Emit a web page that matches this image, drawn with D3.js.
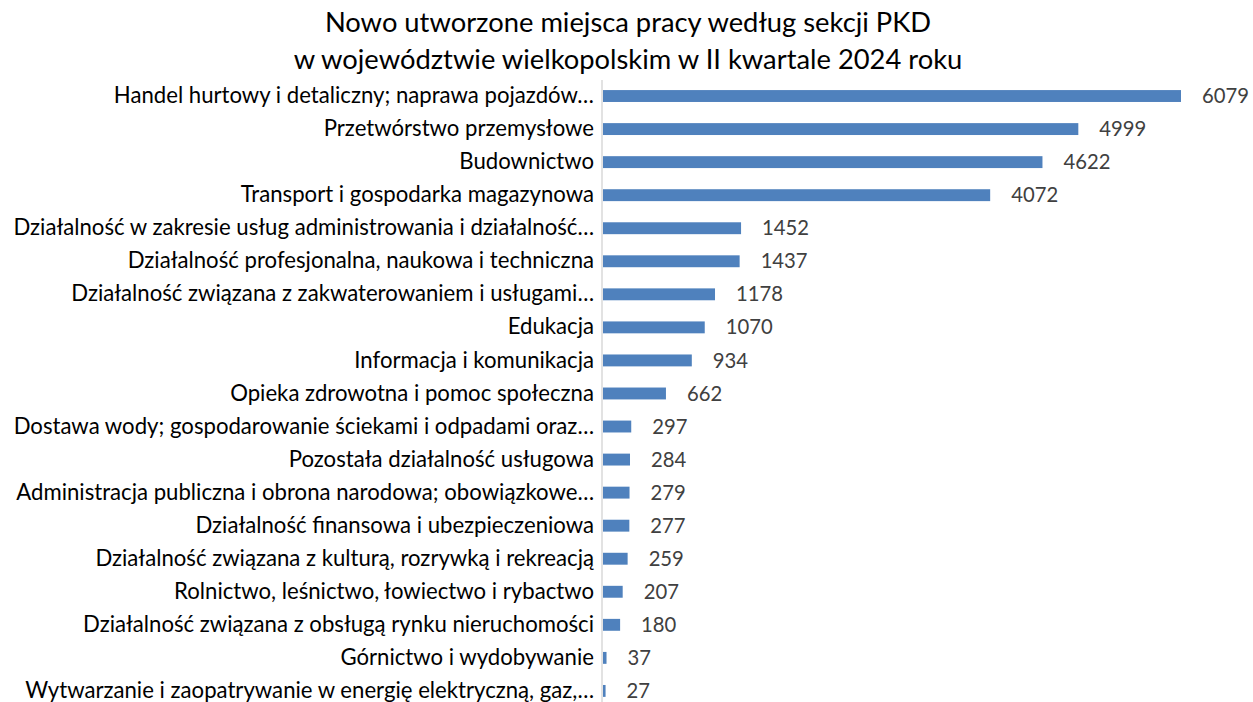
<!DOCTYPE html>
<html>
<head>
<meta charset="utf-8">
<script src="https://cdn.jsdelivr.net/npm/d3@7"></script>
<style>
  body { margin: 0; background: #fff; }
  svg text { font-family: Lato, "Open Sans", sans-serif; }
</style>
</head>
<body>
<svg id="chart" width="1253" height="702"></svg>
<script>
var titleLines = [
  "Nowo utworzone miejsca pracy według sekcji PKD",
  "w województwie wielkopolskim w II kwartale 2024 roku"
];

var categories = [
  "Handel hurtowy i detaliczny; naprawa pojazdów…",
  "Przetwórstwo przemysłowe",
  "Budownictwo",
  "Transport i gospodarka magazynowa",
  "Działalność w zakresie usług administrowania i działalność…",
  "Działalność profesjonalna, naukowa i techniczna",
  "Działalność związana z zakwaterowaniem i usługami…",
  "Edukacja",
  "Informacja i komunikacja",
  "Opieka zdrowotna i pomoc społeczna",
  "Dostawa wody; gospodarowanie ściekami i odpadami oraz…",
  "Pozostała działalność usługowa",
  "Administracja publiczna i obrona narodowa; obowiązkowe…",
  "Działalność finansowa i ubezpieczeniowa",
  "Działalność związana z kulturą, rozrywką i rekreacją",
  "Rolnictwo, leśnictwo, łowiectwo i rybactwo",
  "Działalność związana z obsługą rynku nieruchomości",
  "Górnictwo i wydobywanie",
  "Wytwarzanie i zaopatrywanie w energię elektryczną, gaz,…"
];

var values = [6079, 4999, 4622, 4072, 1452, 1437, 1178, 1070, 934, 662,
              297, 284, 279, 277, 259, 207, 180, 37, 27];

var svg = d3.select("#chart");

// fit a text selection to a target width by adjusting its font size
function fitWidth(sel, target) {
  var maxW = 0;
  sel.each(function () { maxW = Math.max(maxW, this.getComputedTextLength()); });
  var fs = parseFloat(sel.attr("font-size"));
  sel.attr("font-size", fs * target / maxW);
}

var x = d3.scaleLinear()
  .domain([0, 6079])
  .range([603, 1181]);

var y = d3.scaleBand()
  .domain(categories)
  .range([79.5, 79.5 + 19 * 33.05])
  .paddingInner(0.64)
  .paddingOuter(0.32);

// title
var title = svg.append("g").selectAll("text")
  .data(titleLines)
  .enter().append("text")
  .attr("x", 628)
  .attr("y", function (d, i) { return 32 + i * 37; })
  .attr("text-anchor", "middle")
  .attr("font-size", 24)
  .attr("fill", "#000")
  .text(function (d) { return d; });
fitWidth(title, 669);

// bars
svg.append("g").selectAll("rect")
  .data(values)
  .enter().append("rect")
  .attr("x", x(0))
  .attr("y", function (d, i) { return y(categories[i]); })
  .attr("width", function (d) { return x(d) - x(0); })
  .attr("height", y.bandwidth())
  .attr("fill", "#4f81bd");

// vertical axis
var axis = d3.axisLeft(y).tickSize(0).tickPadding(8);
var axisG = svg.append("g")
  .attr("transform", "translate(" + (x(0) - 1) + ",0)")
  .call(axis);
axisG.select(".domain")
  .attr("d", "M0,80V702")
  .attr("stroke", "#d9d9d9")
  .attr("stroke-width", 1.5);
var catText = axisG.selectAll(".tick text")
  .attr("font-size", 20)
  .attr("font-family", null)
  .attr("fill", "#000");
fitWidth(catText, 581);

// value labels
var valText = svg.append("g").selectAll("text")
  .data(values)
  .enter().append("text")
  .attr("x", function (d) { return x(d) + 21; })
  .attr("y", function (d, i) { return y(categories[i]) + y.bandwidth() / 2; })
  .attr("dy", "0.35em")
  .attr("font-size", 20)
  .attr("fill", "#404040")
  .text(function (d) { return d; });
valText.attr("font-size", 20 * 47 / valText.nodes()[0].getComputedTextLength());
</script>
</body>
</html>
